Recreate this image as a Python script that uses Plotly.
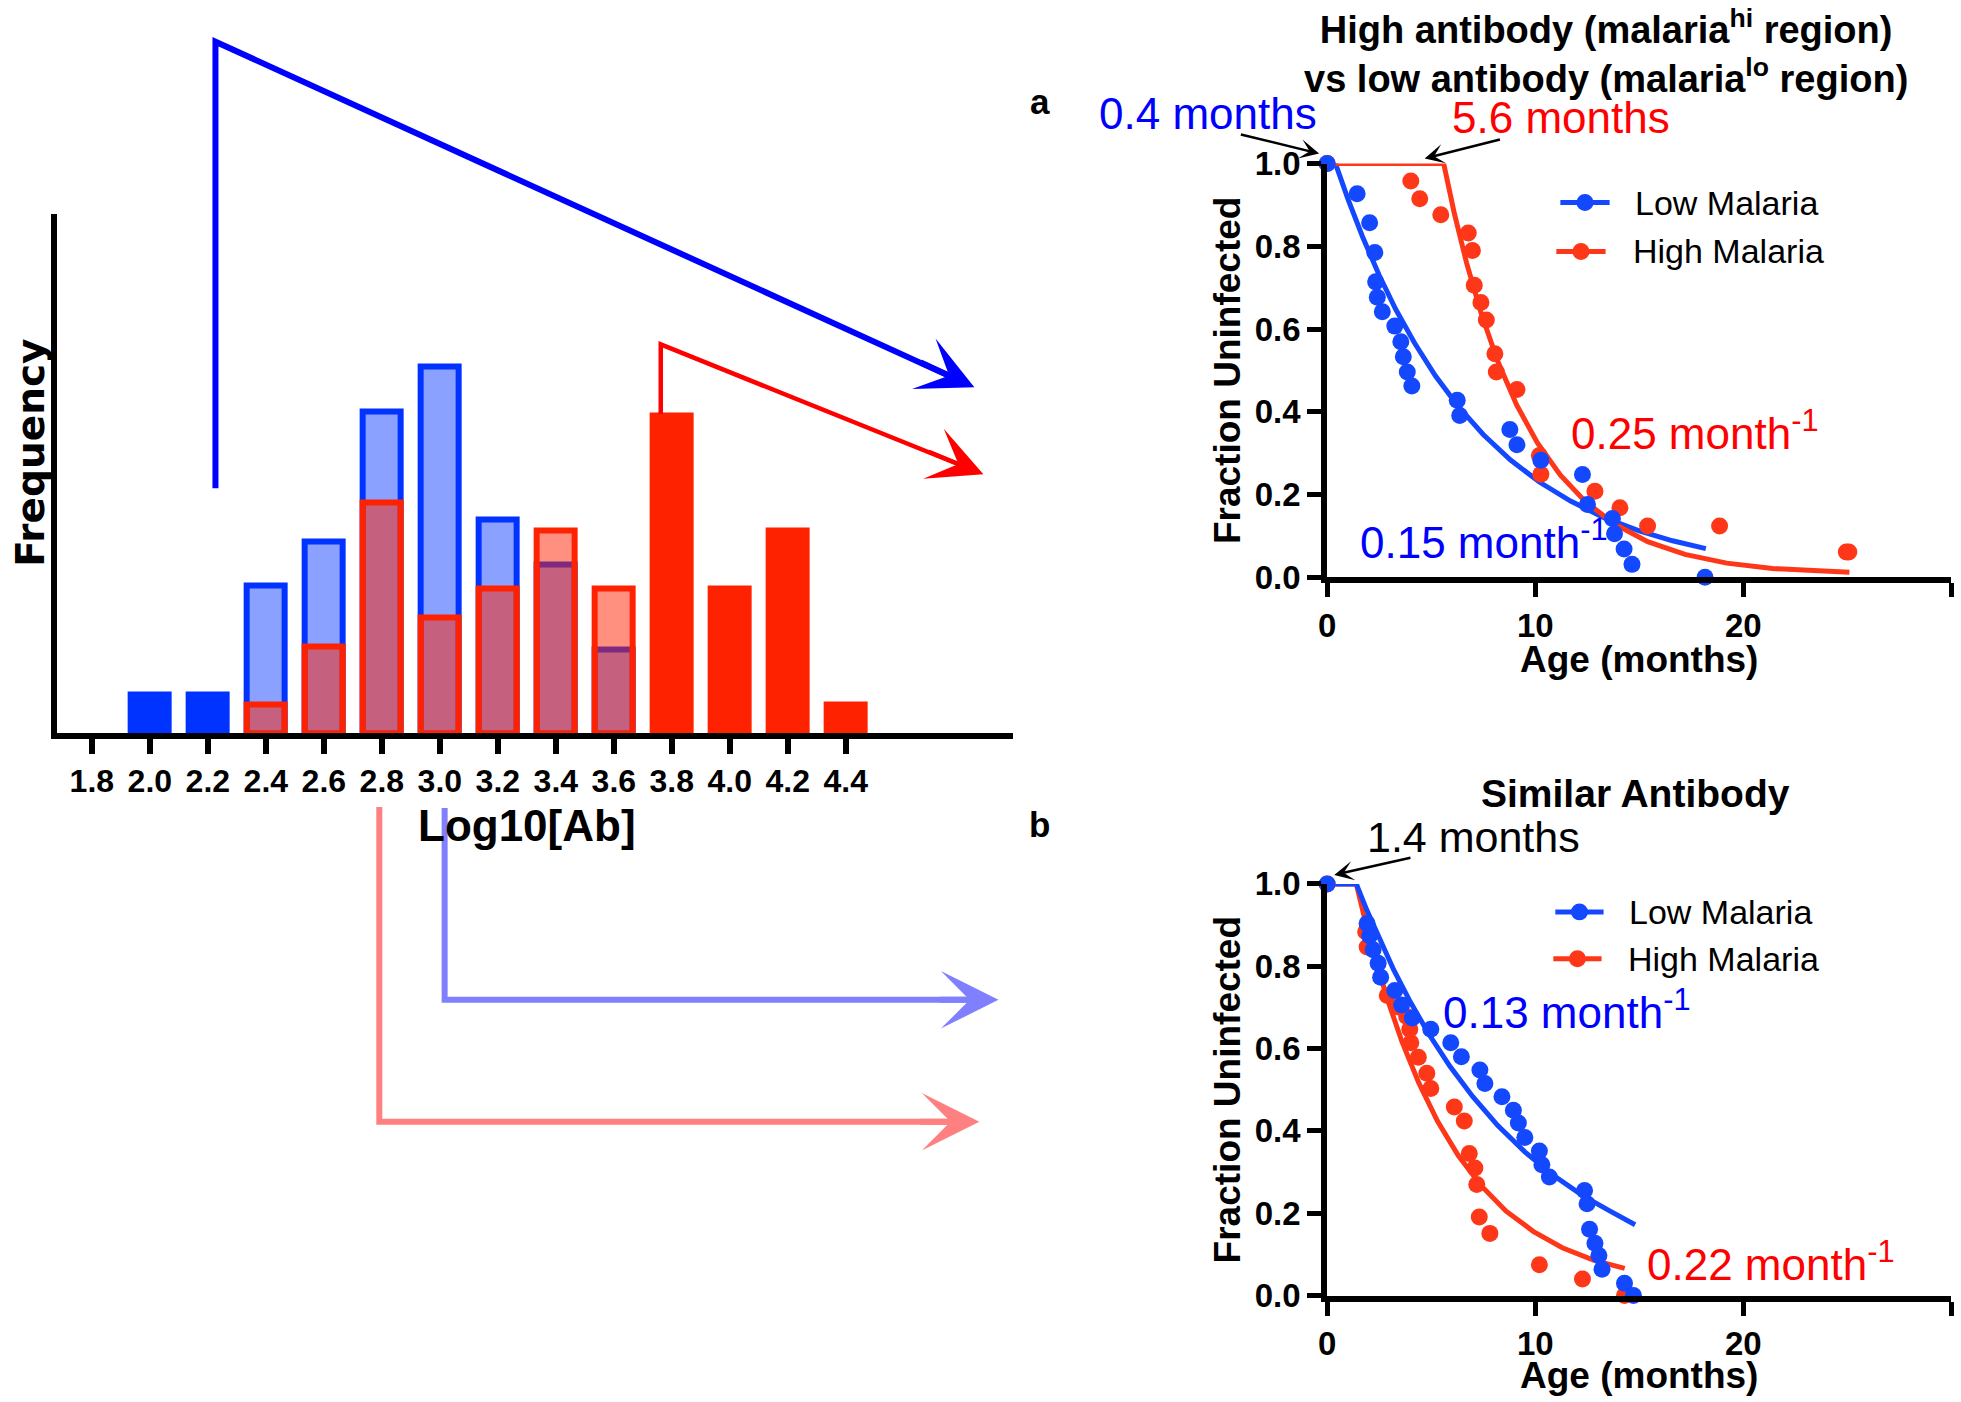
import plotly.graph_objects as go

W, H = 1961, 1402

# ---------------- data ----------------
hist_ticks = [1.8, 2.0, 2.2, 2.4, 2.6, 2.8, 3.0, 3.2, 3.4, 3.6, 3.8, 4.0, 4.2, 4.4]
hist_tick_text = ["1.8", "2.0", "2.2", "2.4", "2.6", "2.8", "3.0", "3.2", "3.4", "3.6", "3.8", "4.0", "4.2", "4.4"]

low_ab_bins = [2.0, 2.2, 2.4, 2.6, 2.8, 3.0, 3.2, 3.4, 3.6]
low_ab_freq = [1.35, 1.35, 5.1, 6.65, 11.15, 12.7, 7.4, 5.85, 2.9]
high_ab_bins = [2.4, 2.6, 2.8, 3.0, 3.2, 3.4, 3.6, 3.8, 4.0, 4.2, 4.4]
high_ab_freq = [1, 3, 8, 4, 5, 7, 5, 11, 5, 7, 1]

a_low_age = [0, 1.44, 2.04, 2.29, 2.33, 2.41, 2.65, 3.25, 3.54, 3.66, 3.85, 4.07, 6.25, 6.37,
             8.78, 9.12, 10.27, 12.27, 12.51, 13.71, 13.81, 14.27, 14.65, 18.16]
a_low_frac = [1.0, 0.927, 0.857, 0.785, 0.714, 0.677, 0.642, 0.607, 0.569, 0.533, 0.496, 0.462,
              0.428, 0.391, 0.357, 0.320, 0.283, 0.248, 0.176, 0.142, 0.105, 0.068, 0.031, 0.0]
a_high_age = [0, 4.02, 4.45, 5.46, 6.78, 6.98, 7.07, 7.39, 7.65, 8.06, 8.13, 9.12, 10.20, 10.27,
              12.87, 14.07, 15.40, 18.86, 24.95, 25.07]
a_high_frac = [1.0, 0.958, 0.915, 0.876, 0.832, 0.790, 0.706, 0.664, 0.622, 0.540, 0.496, 0.454,
               0.294, 0.249, 0.208, 0.168, 0.124, 0.124, 0.061, 0.061]
a_low_fit_age = [0, 0.4, 1.0, 1.7, 2.5, 3.3, 4.2, 5.2, 6.3, 7.5, 8.8, 10.2, 11.7, 13.3, 15.0, 16.6, 18.2]
a_low_fit_frac = [1.0, 1.0, 0.914, 0.823, 0.730, 0.647, 0.566, 0.487, 0.413, 0.345, 0.284, 0.230,
                  0.184, 0.144, 0.112, 0.088, 0.069]
a_high_fit_age = [0, 5.6, 6.1, 6.7, 7.4, 8.2, 9.1, 10.1, 11.2, 12.4, 13.8, 15.4, 17.2, 19.2, 21.4, 23.4, 25.1]
a_high_fit_frac = [1.0, 1.0, 0.882, 0.760, 0.638, 0.522, 0.417, 0.325, 0.247, 0.183, 0.129, 0.086,
                   0.055, 0.034, 0.021, 0.016, 0.012]

b_low_age = [0, 1.92, 2.04, 2.21, 2.45, 2.57, 3.25, 3.58, 4.09, 4.98, 5.94, 6.45, 7.34, 7.58, 8.40,
             8.95, 9.19, 9.50, 10.20, 10.32, 10.68, 12.37, 12.49, 12.61, 12.87, 13.06, 13.21, 14.29, 14.72]
b_low_frac = [1.0, 0.904, 0.874, 0.840, 0.807, 0.773, 0.741, 0.706, 0.674, 0.647, 0.614, 0.580,
              0.548, 0.515, 0.483, 0.450, 0.419, 0.384, 0.351, 0.318, 0.288, 0.255, 0.223, 0.161,
              0.127, 0.097, 0.064, 0.030, 0.0]
b_high_age = [0, 1.85, 1.92, 2.89, 3.42, 3.82, 3.97, 4.02, 4.38, 4.79, 4.98, 6.11, 6.59, 6.83, 7.10,
              7.19, 7.31, 7.82, 10.20, 12.27, 14.29]
b_high_frac = [1.0, 0.884, 0.847, 0.729, 0.701, 0.678, 0.647, 0.614, 0.579, 0.540, 0.503, 0.458,
               0.424, 0.345, 0.310, 0.270, 0.191, 0.151, 0.075, 0.040, 0.0]
b_low_fit_age = [0, 1.4, 1.9, 2.5, 3.2, 4.0, 4.9, 5.9, 7.0, 8.2, 9.5, 10.9, 12.3, 13.6, 14.8]
b_low_fit_frac = [1.0, 1.0, 0.937, 0.867, 0.791, 0.713, 0.634, 0.557, 0.483, 0.413, 0.349, 0.291,
                  0.242, 0.205, 0.172]
b_high_fit_age = [0, 1.4, 1.8, 2.3, 2.9, 3.6, 4.4, 5.3, 6.3, 7.4, 8.6, 9.9, 11.3, 12.8, 14.3]
b_high_fit_frac = [1.0, 1.0, 0.916, 0.820, 0.719, 0.616, 0.517, 0.424, 0.340, 0.267, 0.205, 0.156,
                   0.116, 0.086, 0.066]

age_ticks = [0, 10, 20, 30]
frac_ticks = [0.0, 0.2, 0.4, 0.6, 0.8, 1.0]
frac_tick_text = ["0.0", "0.2", "0.4", "0.6", "0.8", "1.0"]
series_names = ["Low Malaria", "High Malaria"]

FONT = "Liberation Sans, Arial, sans-serif"
BLUE_SOLID = "#0033FF"
RED_SOLID = "#FF2200"
BLUE_T = "rgba(0,51,255,0.46)"
RED_T = "rgba(255,34,0,0.5)"
PT_BLUE = "#1448FF"
PT_RED = "#FF3719"
TXT_BLUE = "#0000FF"
TXT_RED = "#FF0000"

# the captured picture maps page pixels as  pic = offset + scale * page ; layout positions
# below are given in picture pixels and converted back to page/paper units
SX, OX = 0.9903, 9.6
SY, OY = 0.9745, 17.3
FS = 1.02  # font compensation for the capture scaling


def PX(x):
    return ((x - OX) / SX) / W


def PY(y):
    return 1 - ((y - OY) / SY) / H


overlap = set(low_ab_bins) & set(high_ab_bins)
low_colors = [BLUE_T if b in overlap else BLUE_SOLID for b in low_ab_bins]
high_colors = [RED_T if b in overlap else RED_SOLID for b in high_ab_bins]

fig = go.Figure()
fig.add_trace(go.Bar(x=low_ab_bins, y=low_ab_freq, width=0.132, marker=dict(color=low_colors,
                     line=dict(color=BLUE_SOLID, width=6)), xaxis="x", yaxis="y", showlegend=False))
fig.add_trace(go.Bar(x=high_ab_bins, y=high_ab_freq, width=0.132, marker=dict(color=high_colors,
                     line=dict(color=RED_SOLID, width=6)), xaxis="x", yaxis="y", showlegend=False))

MS = 17
LW = 5


def add_panel(xa, ya, low_age, low_frac, high_age, high_frac, lfa, lff, hfa, hff, red_line_on_top):
    lines = [
        go.Scatter(x=lfa, y=lff, mode="lines", line=dict(color=PT_BLUE, width=LW), showlegend=False,
                   xaxis=xa, yaxis=ya, cliponaxis=False, hoverinfo="skip"),
        go.Scatter(x=hfa, y=hff, mode="lines", line=dict(color=PT_RED, width=LW), showlegend=False,
                   xaxis=xa, yaxis=ya, cliponaxis=False, hoverinfo="skip"),
    ]
    if not red_line_on_top:
        lines = lines[::-1]
    for t in lines:
        fig.add_trace(t)
    fig.add_trace(go.Scatter(x=high_age, y=high_frac, mode="markers", marker=dict(color=PT_RED, size=MS),
                             name=series_names[1], showlegend=False, xaxis=xa, yaxis=ya, cliponaxis=False))
    fig.add_trace(go.Scatter(x=low_age, y=low_frac, mode="markers", marker=dict(color=PT_BLUE, size=MS),
                             name=series_names[0], showlegend=False, xaxis=xa, yaxis=ya, cliponaxis=False))


add_panel("x2", "y2", a_low_age, a_low_frac, a_high_age, a_high_frac,
          a_low_fit_age, a_low_fit_frac, a_high_fit_age, a_high_fit_frac, True)
add_panel("x3", "y3", b_low_age, b_low_frac, b_high_age, b_high_frac,
          b_low_fit_age, b_low_fit_frac, b_high_fit_age, b_high_fit_frac, False)

tickfont = dict(family=FONT, size=round(32 * FS), color="black", weight="bold")
axis_common = dict(showline=True, linecolor="black", linewidth=6, ticks="outside", ticklen=14,
                   tickwidth=5, tickcolor="black", showgrid=False, zeroline=False, fixedrange=True,
                   tickfont=tickfont)

fig.update_layout(
    width=W, height=H, autosize=False,
    margin=dict(l=0, r=0, t=0, b=0),
    paper_bgcolor="white", plot_bgcolor="rgba(0,0,0,0)",
    barmode="overlay", bargap=0, showlegend=False,
    font=dict(family=FONT, color="black"),
    xaxis=dict(axis_common, domain=[PX(57), PX(1008)], range=[1.6787, 4.975], tickvals=hist_ticks,
               ticktext=hist_tick_text, ticklen=15, tickwidth=6,
               tickfont=dict(family=FONT, size=round(31 * FS), color="black", weight="bold"), anchor="y"),
    yaxis=dict(showline=True, linecolor="black", linewidth=6, showticklabels=False, ticks="",
               showgrid=False, zeroline=False, domain=[PY(733), PY(213)], range=[0, 18.0],
               anchor="x", fixedrange=True),
    xaxis2=dict(axis_common, domain=[PX(1321), PX(1942)], range=[0, 30], tickvals=age_ticks, anchor="y2"),
    yaxis2=dict(axis_common, domain=[PY(577), PY(163)], range=[0, 1], tickvals=frac_ticks,
                ticktext=frac_tick_text, anchor="x2"),
    xaxis3=dict(axis_common, domain=[PX(1321), PX(1942)], range=[0, 30], tickvals=age_ticks, anchor="y3"),
    yaxis3=dict(axis_common, domain=[PY(1296), PY(884)], range=[0, 1], tickvals=frac_ticks,
                ticktext=frac_tick_text, anchor="x3"),
)


def big_arrow(points, color, width, head_size):
    path = "M " + " L ".join(f"{PX(x)},{PY(y)}" for x, y in points[:-1])
    (x1, y1), (x2, y2) = points[-2], points[-1]
    dx, dy = x2 - x1, y2 - y1
    n = (dx * dx + dy * dy) ** 0.5
    ux, uy = dx / n, dy / n
    stop = (x2 - 30 * ux, y2 - 30 * uy)
    path += f" L {PX(stop[0])},{PY(stop[1])}"
    fig.add_shape(type="path", xref="paper", yref="paper", path=path,
                  line=dict(color=color, width=width))
    fig.add_annotation(x=PX(x2), y=PY(y2), xref="paper", yref="paper", ax=-60 * ux / SX, ay=-60 * uy / SY,
                       text="", showarrow=True, arrowhead=3, arrowsize=head_size, arrowwidth=width,
                       arrowcolor=color, font=dict(size=1))


big_arrow([(215, 488), (215, 41), (970, 387)], "#0000FF", 6, 1.55)
big_arrow([(658, 414), (658, 344), (979, 474)], "#FF0000", 4.5, 2.0)
big_arrow([(443, 808), (443, 1000), (994, 1000)], "#8080FF", 6, 1.6)
big_arrow([(378, 807), (378, 1122), (975, 1122)], "#FF8080", 6, 1.6)


def small_arrow(tail, tip):
    fig.add_annotation(x=PX(tip[0]), y=PY(tip[1]), xref="paper", yref="paper",
                       ax=(tail[0] - tip[0]) / SX, ay=(tail[1] - tip[1]) / SY, text="", showarrow=True,
                       arrowhead=3, arrowsize=1.3, arrowwidth=2.5, arrowcolor="black", font=dict(size=1))


small_arrow((1234, 134), (1313, 153))
small_arrow((1494, 139), (1418, 158))
small_arrow((1405, 858), (1328, 875))


def text(x, y, s, size, color="black", bold=False, xanchor="center", angle=0, family=FONT, fs=FS):
    fig.add_annotation(x=PX(x), y=PY(y), xref="paper", yref="paper", text=s, showarrow=False,
                       xanchor=xanchor, yanchor="middle", textangle=angle,
                       font=dict(family=family, size=round(size * fs), color=color,
                                 weight="bold" if bold else "normal"))


def legend_key(x0, x1, y, color, label, tx):
    fig.add_shape(type="line", xref="paper", yref="paper", x0=PX(x0), x1=PX(x1), y0=PY(y), y1=PY(y),
                  line=dict(color=color, width=LW))
    cx = (x0 + x1) / 2
    r = MS / 2
    fig.add_shape(type="circle", xref="paper", yref="paper", x0=PX(cx - r), x1=PX(cx + r),
                  y0=PY(y + r), y1=PY(y - r), fillcolor=color, line=dict(width=0))
    text(tx, y, label, 33, xanchor="left")


legend_key(1553, 1602, 202, PT_BLUE, series_names[0], 1625)
legend_key(1549, 1598, 251, PT_RED, series_names[1], 1623)
legend_key(1548, 1596, 912, PT_BLUE, series_names[0], 1619)
legend_key(1546, 1594, 959, PT_RED, series_names[1], 1618)

text(31, 453, "Frequency", 38, bold=True, angle=-90, family="DejaVu Sans, sans-serif")
text(525, 826, "Log10[Ab]", 43, bold=True)

# panel a
text(1598, 51, "High antibody (malaria<sup>hi</sup> region)<br>vs low antibody (malaria<sup>lo</sup> region)",
     38, bold=True, fs=1.0)
text(1035, 101, "a", 34, bold=True)
text(1202, 113, "0.4 months", 43, TXT_BLUE)
text(1554, 117, "5.6 months", 43, TXT_RED)
text(1562, 430, "0.25 month<sup>-1</sup>", 43, TXT_RED, xanchor="left")
text(1352, 539, "0.15 month<sup>-1</sup>", 43, TXT_BLUE, xanchor="left")
text(1631, 659, "Age (months)", 36, bold=True)
text(1222, 370, "Fraction Uninfected", 36, bold=True, angle=-90)

# panel b
text(1628, 794, "Similar Antibody", 38, bold=True)
text(1035, 825, "b", 34, bold=True)
text(1467, 837, "1.4 months", 42)
text(1434, 1010, "0.13 month<sup>-1</sup>", 43, TXT_BLUE, xanchor="left")
text(1637, 1262, "0.22 month<sup>-1</sup>", 43, TXT_RED, xanchor="left")
text(1631, 1376, "Age (months)", 36, bold=True)
text(1222, 1090, "Fraction Uninfected", 36, bold=True, angle=-90)

pin_page = (
    "var gd=document.getElementById('{plot_id}');"
    "document.documentElement.style.margin='0';document.documentElement.style.padding='0';"
    "document.documentElement.style.overflow='hidden';"
    "document.body.style.margin='0';document.body.style.padding='0';document.body.style.overflow='hidden';"
    "gd.style.position='fixed';gd.style.left='0px';gd.style.top='0px';"
)
fig.write_html("out.html", config={"displayModeBar": False}, post_script=pin_page)
